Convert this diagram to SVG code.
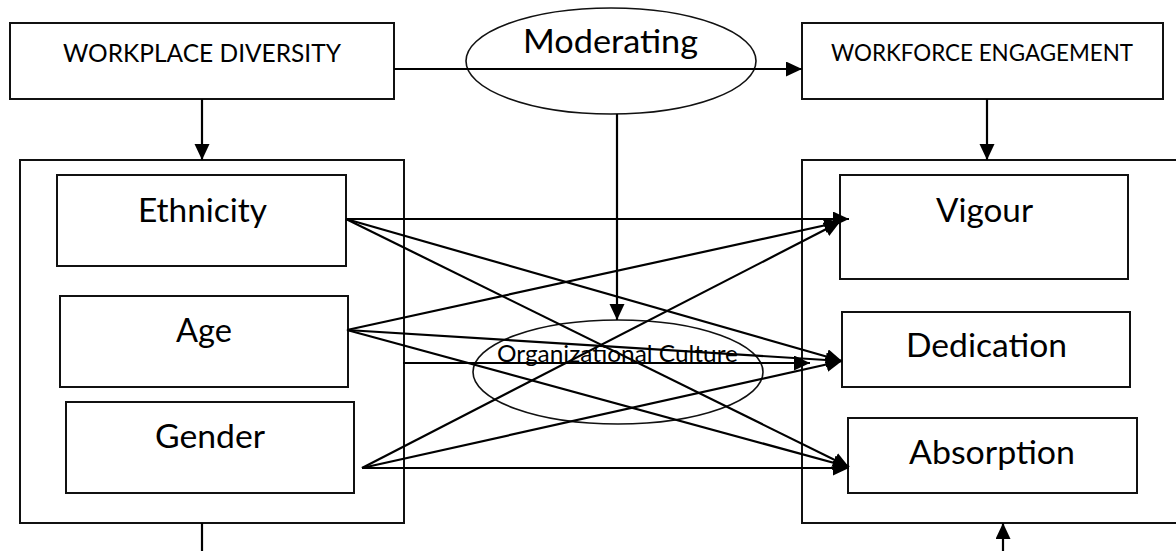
<svg xmlns="http://www.w3.org/2000/svg" width="1176" height="551" viewBox="0 0 1176 551">
<defs>
<style>
.box{fill:#fff;stroke:#111;stroke-width:2}
.frame{fill:none;stroke:#111;stroke-width:2}
.ell{fill:none;stroke:#111;stroke-width:1.6}
.ln{stroke:#000;stroke-width:2.2;fill:none}
.arr{stroke:#000;stroke-width:2.2;fill:none;marker-end:url(#ah)}
text{font-family:Lato,"Open Sans","Liberation Sans",sans-serif;fill:#000}
.hd{font-size:25px}
.we{font-size:23.5px}
.big{font-size:32.5px}
.mod{font-size:33px}
.oc{font-size:23.5px}
</style>
<marker id="ah" markerUnits="userSpaceOnUse" markerWidth="18" markerHeight="16" refX="16" refY="7.5" orient="auto">
<path d="M0,0 L16,7.5 L0,15 z" fill="#000"/>
</marker>
</defs>
<g id="workplace-diversity">
<rect class="box" x="10" y="23" width="384" height="76"/>
<text class="hd" x="63" y="62" textLength="278" lengthAdjust="spacingAndGlyphs">WORKPLACE DIVERSITY</text>
</g>
<g id="workforce-engagement">
<rect class="box" x="802" y="23" width="361" height="76"/>
<text class="we" x="831" y="61" textLength="302" lengthAdjust="spacingAndGlyphs">WORKFORCE ENGAGEMENT</text>
</g>
<g id="diversity-frame">
<rect class="frame" x="20" y="160" width="384" height="363"/>
</g>
<g id="engagement-frame">
<rect class="frame" x="802" y="160" width="380" height="363"/>
</g>
<g id="ethnicity">
<rect class="box" x="57" y="175" width="289" height="91"/>
<text class="big" x="138" y="222" textLength="129" lengthAdjust="spacingAndGlyphs">Ethnicity</text>
</g>
<g id="age">
<rect class="box" x="60" y="296" width="288" height="91"/>
<text class="big" x="176" y="342" textLength="56" lengthAdjust="spacingAndGlyphs">Age</text>
</g>
<g id="gender">
<rect class="box" x="66" y="402" width="288" height="91"/>
<text class="big" x="155" y="448" textLength="110" lengthAdjust="spacingAndGlyphs">Gender</text>
</g>
<g id="vigour">
<rect class="box" x="840" y="175" width="288" height="104"/>
<text class="big" x="936" y="222" textLength="97" lengthAdjust="spacingAndGlyphs">Vigour</text>
</g>
<g id="dedication">
<rect class="box" x="842" y="312" width="288" height="75"/>
<text class="big" x="906" y="357" textLength="161" lengthAdjust="spacingAndGlyphs">Dedication</text>
</g>
<g id="absorption">
<rect class="box" x="848" y="418" width="289" height="75"/>
<text class="big" x="909" y="464" textLength="166" lengthAdjust="spacingAndGlyphs">Absorption</text>
</g>
<g id="moderating">
<ellipse class="ell" cx="611" cy="61" rx="145" ry="53"/>
<text class="mod" x="523" y="53" textLength="175" lengthAdjust="spacingAndGlyphs">Moderating</text>
</g>
<g id="organizational-culture">
<ellipse class="ell" cx="618" cy="372" rx="145" ry="52"/>
<text class="oc" x="497" y="362" textLength="241" lengthAdjust="spacingAndGlyphs">Organizational Culture</text>
</g>
<g id="connectors">
<line class="arr" x1="394" y1="69" x2="802" y2="69"/>
<line class="arr" x1="202" y1="99" x2="202" y2="160"/>
<line class="arr" x1="987" y1="99" x2="987" y2="160"/>
<line class="arr" x1="617" y1="114" x2="617" y2="320"/>
<line class="ln" x1="202" y1="523" x2="202" y2="551"/>
<line class="arr" x1="1003" y1="551" x2="1003" y2="523"/>
<line class="arr" x1="403" y1="363" x2="810" y2="363"/>
<line class="arr" x1="346" y1="219" x2="849" y2="219"/>
<line class="arr" x1="346" y1="219" x2="842" y2="361"/>
<line class="arr" x1="346" y1="219" x2="849" y2="467"/>
<line class="arr" x1="347" y1="330" x2="840" y2="222"/>
<line class="arr" x1="347" y1="330" x2="842" y2="361"/>
<line class="arr" x1="347" y1="330" x2="849" y2="467"/>
<line class="arr" x1="362" y1="468" x2="840" y2="222"/>
<line class="arr" x1="362" y1="468" x2="842" y2="361"/>
<line class="arr" x1="362" y1="468" x2="849" y2="468"/>
</g>
</svg>
